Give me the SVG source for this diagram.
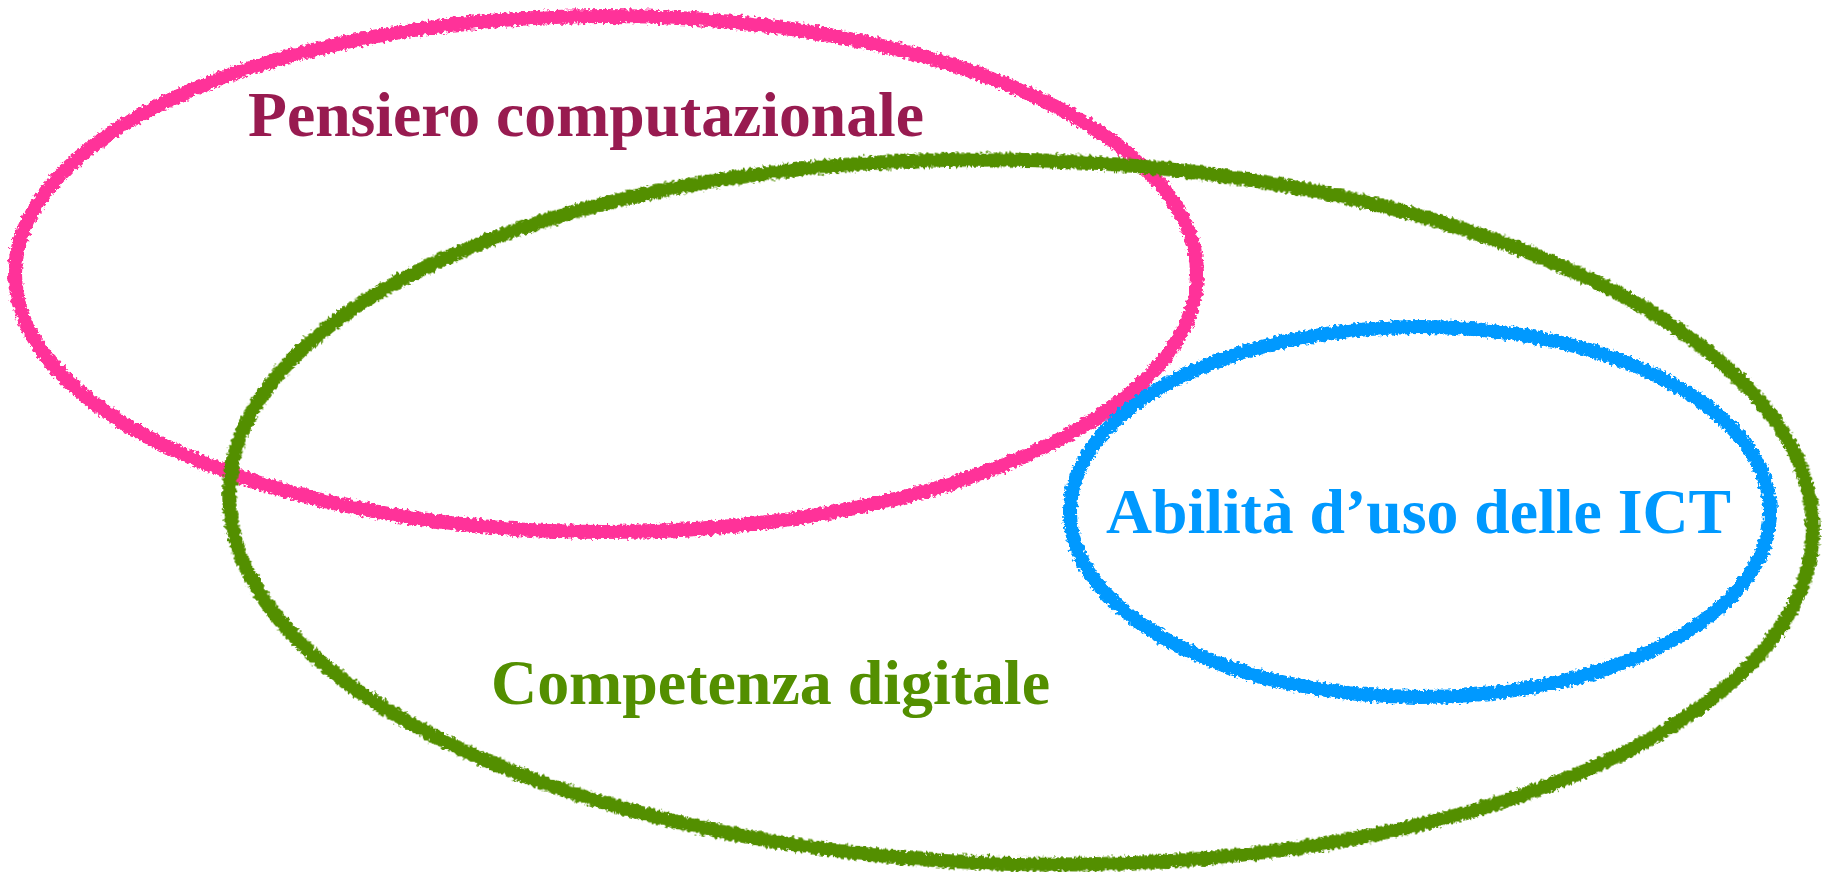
<svg xmlns="http://www.w3.org/2000/svg" width="1823" height="872" viewBox="0 0 1823 872">
<style>
.ring{fill:none;stroke-width:14;filter:url(#rough)}
.lbl{font-family:"Liberation Serif","Times New Roman",serif;font-weight:bold;font-size:63px}
</style>
<defs>
<filter id="rough" x="-5%" y="-5%" width="110%" height="110%">
<feTurbulence type="fractalNoise" baseFrequency="0.3" numOctaves="2" seed="3" result="n"/>
<feDisplacementMap in="SourceGraphic" in2="n" scale="7" xChannelSelector="R" yChannelSelector="G"/>
</filter>
</defs>
<rect width="1823" height="872" fill="#fff"/>
<g id="pensiero">
<ellipse class="ring" cx="606" cy="274" rx="591" ry="258" stroke="#FF3399"/>
<text class="lbl" x="248" y="136" fill="#981B50" textLength="676" lengthAdjust="spacingAndGlyphs">Pensiero computazionale</text>
</g>
<g id="competenza">
<ellipse class="ring" cx="1021" cy="512" rx="792" ry="352" stroke="#538F00" transform="rotate(1.5 1021 512)"/>
<text class="lbl" x="491" y="704" fill="#538F00" textLength="559" lengthAdjust="spacingAndGlyphs">Competenza digitale</text>
</g>
<g id="abilita">
<ellipse class="ring" cx="1420" cy="512" rx="350" ry="185" stroke="#0099FF"/>
<text class="lbl" x="1106" y="533" fill="#0099FF" textLength="625" lengthAdjust="spacingAndGlyphs">Abilità d’uso delle ICT</text>
</g>
</svg>
